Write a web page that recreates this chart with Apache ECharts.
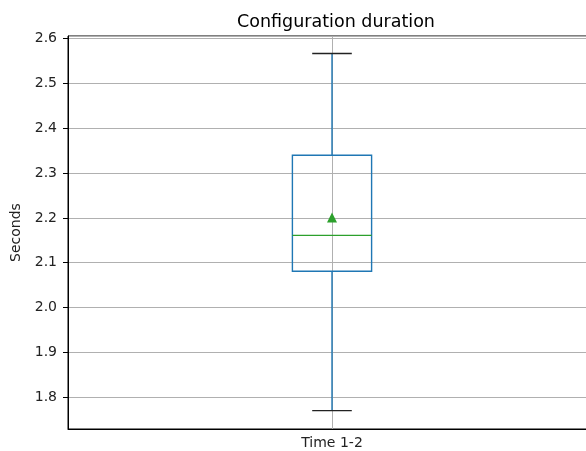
<!DOCTYPE html>
<html>
<head>
<meta charset="utf-8">
<script src="https://cdn.jsdelivr.net/npm/echarts@6/dist/echarts.min.js"></script>
<style>
  html, body { margin: 0; padding: 0; background: #fff; overflow: hidden; }
  #main { width: 596px; height: 451px; }
</style>
</head>
<body>
<div id="main"></div>
<script>
// data
const categories = ['Time 1-2'];
// [min, q1, median, q3, max]
const boxStats = [[1.770, 2.081, 2.161, 2.340, 2.567]];
const means = [2.201];

const blue = '#1f77b4';
const green = '#2ca02c';

let myChart = echarts.init(document.getElementById('main'));

const boxData = boxStats.map(function (s, i) { return [i].concat(s); });

myChart.setOption({
    animation: false,
    backgroundColor: '#fff',
    textStyle: { fontFamily: 'DejaVu Sans' },
    title: {
        text: 'Configuration duration',
        left: 331,
        top: 8,
        textAlign: 'center',
        textStyle: { fontSize: 17.5, fontWeight: 'normal', color: '#000', fontFamily: 'DejaVu Sans' }
    },
    grid: {
        left: 68, top: 36, right: 0, bottom: 22,
        show: true, borderColor: '#000', borderWidth: 1, backgroundColor: 'transparent'
    },
    xAxis: {
        type: 'category',
        data: categories,
        axisLine: { lineStyle: { color: '#000', width: 1 } },
        axisTick: { alignWithLabel: true, length: 5, lineStyle: { color: '#000' } },
        axisLabel: { color: '#222', fontSize: 14, margin: 7 },
        splitLine: { show: false }
    },
    yAxis: {
        type: 'value',
        min: 1.729,
        max: 2.606,
        splitNumber: 8,
        name: 'Seconds',
        nameLocation: 'middle',
        nameGap: 39,
        nameTextStyle: { color: '#222', fontSize: 14 },
        axisLine: { show: true, lineStyle: { color: '#000', width: 1 } },
        axisTick: { show: true, length: 5, lineStyle: { color: '#000' } },
        axisLabel: {
            color: '#222', fontSize: 14, margin: 11,
            showMinLabel: false, showMaxLabel: false,
            formatter: function (v) { return v.toFixed(1); }
        },
        splitLine: { show: true, lineStyle: { color: '#b0b0b0', width: 1 } }
    },
    series: [
        {
            // vertical grid line at the category
            type: 'line',
            data: [],
            z: 1,
            markLine: {
                z: 1,
                silent: true,
                symbol: 'none',
                label: { show: false },
                lineStyle: { color: '#b0b0b0', type: 'solid', width: 1 },
                data: categories.map(function (c) { return { xAxis: c }; })
            }
        },
        {
            type: 'custom',
            data: boxData,
            z: 3,
            renderItem: function (params, api) {
                const cat = api.value(0);
                const band = api.size([1, 0])[0];
                const bw = band * 0.15;
                const cw = bw / 2;
                const pMin = api.coord([cat, api.value(1)]);
                const pQ1 = api.coord([cat, api.value(2)]);
                const pMed = api.coord([cat, api.value(3)]);
                const pQ3 = api.coord([cat, api.value(4)]);
                const pMax = api.coord([cat, api.value(5)]);
                const x = pMed[0];
                return {
                    type: 'group',
                    children: [
                        { type: 'line', shape: { x1: x, y1: pQ3[1], x2: x, y2: pMax[1] }, style: { stroke: blue, lineWidth: 1.4 } },
                        { type: 'line', shape: { x1: x, y1: pQ1[1], x2: x, y2: pMin[1] }, style: { stroke: blue, lineWidth: 1.4 } },
                        { type: 'line', shape: { x1: x - cw / 2, y1: pMax[1], x2: x + cw / 2, y2: pMax[1] }, style: { stroke: '#222', lineWidth: 1.4 } },
                        { type: 'line', shape: { x1: x - cw / 2, y1: pMin[1], x2: x + cw / 2, y2: pMin[1] }, style: { stroke: '#222', lineWidth: 1.4 } },
                        { type: 'rect', shape: { x: x - bw / 2, y: pQ3[1], width: bw, height: pQ1[1] - pQ3[1] }, style: { fill: 'none', stroke: blue, lineWidth: 1.4 } },
                        { type: 'line', shape: { x1: x - bw / 2, y1: pMed[1], x2: x + bw / 2, y2: pMed[1] }, style: { stroke: green, lineWidth: 1.4 } }
                    ]
                };
            }
        },
        {
            type: 'scatter',
            data: means.map(function (m, i) { return [i, m]; }),
            symbol: 'triangle',
            symbolSize: 10,
            itemStyle: { color: green, opacity: 1 },
            z: 4
        }
    ]
});
</script>
</body>
</html>
